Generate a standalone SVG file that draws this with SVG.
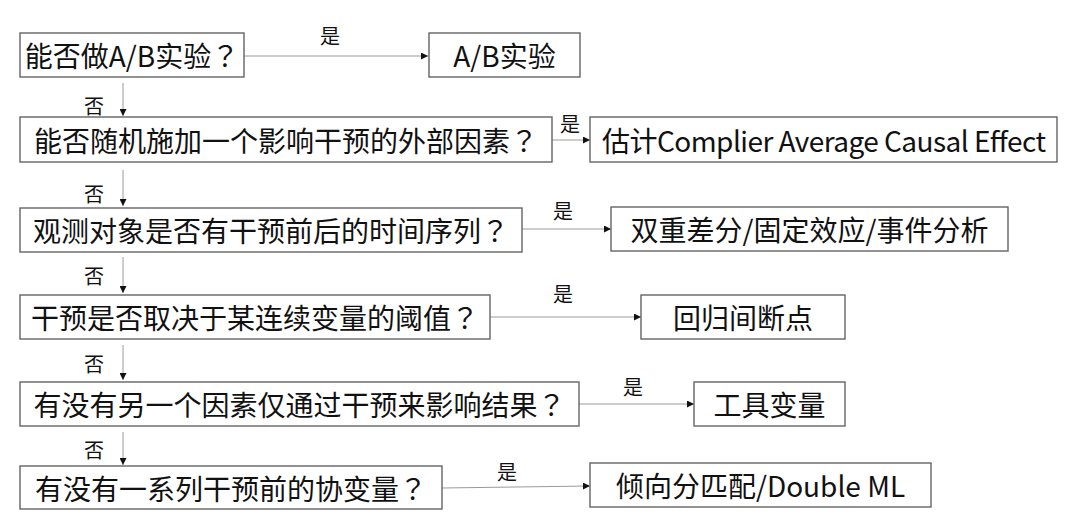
<svg xmlns="http://www.w3.org/2000/svg" width="1080" height="531" viewBox="0 0 1080 531">
<defs>
<style>
.box{fill:#fff;stroke:#646464;stroke-width:1.4}
.t{font-family:"Noto Sans CJK SC","Noto Sans",sans-serif;font-size:28px;fill:#111;text-anchor:middle;dominant-baseline:central}
.q{font-family:"Noto Sans CJK TC","Noto Sans CJK SC",sans-serif}
.l{font-family:"Noto Sans CJK SC","Noto Sans",sans-serif;font-size:20px;fill:#111;text-anchor:middle;dominant-baseline:central}
.c{stroke:#9a9a9a;stroke-width:1;fill:none;marker-end:url(#ah)}
</style>
<marker id="ah" viewBox="0 0 10 10" refX="10" refY="5" markerWidth="7" markerHeight="7" markerUnits="userSpaceOnUse" orient="auto"><path d="M0,0 L10,5 L0,10 z" fill="#111"/></marker>
</defs>
<rect width="1080" height="531" fill="#fff"/>
<g id="connectors">
<line class="c" x1="244" y1="56" x2="428" y2="56"/>
<line class="c" x1="552" y1="140" x2="590" y2="140"/>
<line class="c" x1="522" y1="229" x2="611" y2="229"/>
<line class="c" x1="490" y1="317" x2="641" y2="317"/>
<line class="c" x1="579" y1="404" x2="694" y2="404"/>
<line class="c" x1="442" y1="488" x2="590" y2="486"/>
<line class="c" x1="123" y1="83" x2="123" y2="116"/>
<line class="c" x1="123" y1="170" x2="123" y2="206"/>
<line class="c" x1="123" y1="257" x2="123" y2="293"/>
<line class="c" x1="123" y1="345" x2="123" y2="380"/>
<line class="c" x1="123" y1="432" x2="123" y2="465"/>
<text class="l" x="330" y="35">是</text>
<text class="l" x="570" y="123">是</text>
<text class="l" x="563" y="210">是</text>
<text class="l" x="563" y="293">是</text>
<text class="l" x="633" y="386">是</text>
<text class="l" x="507" y="471">是</text>
<text class="l" x="94" y="105">否</text>
<text class="l" x="94" y="193">否</text>
<text class="l" x="94" y="275">否</text>
<text class="l" x="94" y="363">否</text>
<text class="l" x="94" y="449">否</text>
</g>
<g id="q1"><rect class="box" x="20" y="33" width="224" height="44"/><text class="t" x="132" y="55">能否做A/B实验<tspan class="q">？</tspan></text></g>
<g id="a1"><rect class="box" x="429" y="33" width="151" height="44"/><text class="t" x="504.5" y="55">A/B实验</text></g>
<g id="q2"><rect class="box" x="20" y="117" width="532" height="45"/><text class="t" x="286" y="140">能否随机施加一个影响干预的外部因素<tspan class="q">？</tspan></text></g>
<g id="a2"><rect class="box" x="590" y="117" width="467" height="45"/><text class="t" x="824" y="140" textLength="444" lengthAdjust="spacing">估计Complier Average Causal Effect</text></g>
<g id="q3"><rect class="box" x="20" y="208" width="502" height="44"/><text class="t" x="271" y="230">观测对象是否有干预前后的时间序列<tspan class="q">？</tspan></text></g>
<g id="a3"><rect class="box" x="611" y="207" width="397" height="44"/><text class="t" x="809.5" y="229">双重差分/固定效应/事件分析</text></g>
<g id="q4"><rect class="box" x="20" y="295" width="470" height="44"/><text class="t" x="255" y="317">干预是否取决于某连续变量的阈值<tspan class="q">？</tspan></text></g>
<g id="a4"><rect class="box" x="641" y="295" width="204" height="44"/><text class="t" x="743" y="317">回归间断点</text></g>
<g id="q5"><rect class="box" x="20" y="382" width="559" height="44"/><text class="t" x="299.5" y="404">有没有另一个因素仅通过干预来影响结果<tspan class="q">？</tspan></text></g>
<g id="a5"><rect class="box" x="694" y="382" width="151" height="44"/><text class="t" x="769.5" y="404">工具变量</text></g>
<g id="q6"><rect class="box" x="20" y="466" width="422" height="43"/><text class="t" x="231" y="487.5">有没有一系列干预前的协变量<tspan class="q">？</tspan></text></g>
<g id="a6"><rect class="box" x="590" y="463" width="341" height="44"/><text class="t" x="760.5" y="485">倾向分匹配/Double ML</text></g>
</svg>
